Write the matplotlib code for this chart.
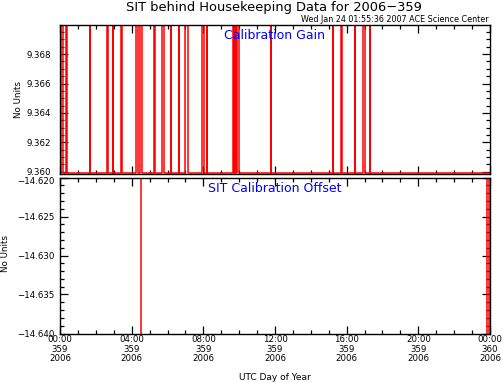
import numpy as np
import matplotlib
matplotlib.use("Agg")
import matplotlib.pyplot as plt
from matplotlib.ticker import MultipleLocator, FixedLocator

# calibration gain spikes (start hour, end hour) on day 359
gain_start = [0.03, 0.36, 1.67, 2.61, 2.96, 3.43, 4.24, 4.46, 5.22, 5.69, 6.18, 6.64,
              6.99, 7.93, 8.21, 9.65, 9.76, 9.88, 11.76, 15.22, 15.71, 16.45, 16.91, 17.30]
gain_end = [0.14, 0.38, 1.69, 2.70, 2.98, 3.45, 4.33, 4.60, 5.33, 5.83, 6.20, 6.66,
            7.14, 8.04, 8.23, 9.71, 9.82, 10.00, 11.78, 15.24, 15.75, 16.47, 17.05, 17.32]
gain_low = 9.35990
gain_high = 9.37200

# calibration offset steps
offset_t = [0.0, 4.52, 4.52, 23.83, 23.83, 23.92, 23.92, 24.0]
offset_v = [-14.600, -14.600, -14.660, -14.660, -14.600, -14.600, -14.660, -14.660]

xticks = [0, 4, 8, 12, 16, 20, 24]
xlabels = ["00:00\n359\n2006", "04:00\n359\n2006", "08:00\n359\n2006", "12:00\n359\n2006",
           "16:00\n359\n2006", "20:00\n359\n2006", "00:00\n360\n2006"]

# build step series for gain
gt = [0.0]
gv = [gain_low]
for s, e in zip(gain_start, gain_end):
    gt += [s, s, e, e]
    gv += [gain_low, gain_high, gain_high, gain_low]
gt.append(24.0)
gv.append(gain_low)

W, H = 503, 382
plt.rcParams['font.family'] = 'DejaVu Sans'
fig = plt.figure(figsize=(W / 100, H / 100), dpi=100)

ax1 = fig.add_axes([60 / W, 1 - 174 / H, 430 / W, 149 / H])
ax2 = fig.add_axes([60 / W, 1 - 333.5 / H, 430 / W, 156 / H])

ax1.plot(gt, gv, color='red', lw=1.1)
ax2.plot(offset_t, offset_v, color='red', lw=1.1)

ax1.set_ylim(9.35985, 9.36998)
ax1.yaxis.set_major_locator(FixedLocator([9.360, 9.362, 9.364, 9.366, 9.368]))
ax1.yaxis.set_minor_locator(MultipleLocator(0.0005))
ax1.set_yticklabels(["9.360", "9.362", "9.364", "9.366", "9.368"])

ax2.set_ylim(-14.640, -14.620)
ax2.yaxis.set_major_locator(FixedLocator([-14.640, -14.635, -14.630, -14.625, -14.620]))
ax2.yaxis.set_minor_locator(MultipleLocator(0.001))
ax2.set_yticklabels(["\u221214.640", "\u221214.635", "\u221214.630", "\u221214.625", "\u221214.620"])
ax2.get_yticklabels()[-1].set_va('top')

for ax in (ax1, ax2):
    ax.set_xlim(0, 24)
    ax.set_xticks(xticks)
    ax.xaxis.set_minor_locator(MultipleLocator(1))
    ax.tick_params(which='both', direction='in', top=True, right=True, labelsize=6.2,
                   width=0.9)
    ax.tick_params(which='major', length=5.5)
    ax.tick_params(which='minor', length=3)
    ax.tick_params(axis='x', pad=1)
    for sp in ax.spines.values():
        sp.set_linewidth(1.0)

ax1.tick_params(axis='y', pad=6.5)
ax2.tick_params(axis='y', pad=3.6)
ax1.set_xticklabels([])
ax2.set_xticklabels(xlabels, linespacing=1.1)

fig.text(18.5 / W, 1 - 100 / H, "No Units", fontsize=6.3, rotation=90, ha='center', va='center')
fig.text(5.5 / W, 1 - 253 / H, "No Units", fontsize=6.3, rotation=90, ha='center', va='center')
fig.text(275 / W, 1 - 377 / H, "UTC Day of Year", fontsize=6.5, ha='center', va='center')

ax1.text(0.5, 0.903, "Calibration Gain", color='blue', fontsize=9, ha='center', va='baseline',
         transform=ax1.transAxes)
ax2.text(0.5, 0.904, "SIT Calibration Offset", color='blue', fontsize=9, ha='center',
         va='baseline', transform=ax2.transAxes)

fig.text(274 / W, 1 - 11.5 / H, "SIT behind Housekeeping Data for 2006\u2212359", fontsize=9.4,
         ha='center', va='baseline')
fig.text(489 / W, 1 - 22.5 / H, "Wed Jan 24 01:55:36 2007 ACE Science Center", fontsize=5.8,
         ha='right', va='baseline')

fig.savefig("out.png", dpi=100)
